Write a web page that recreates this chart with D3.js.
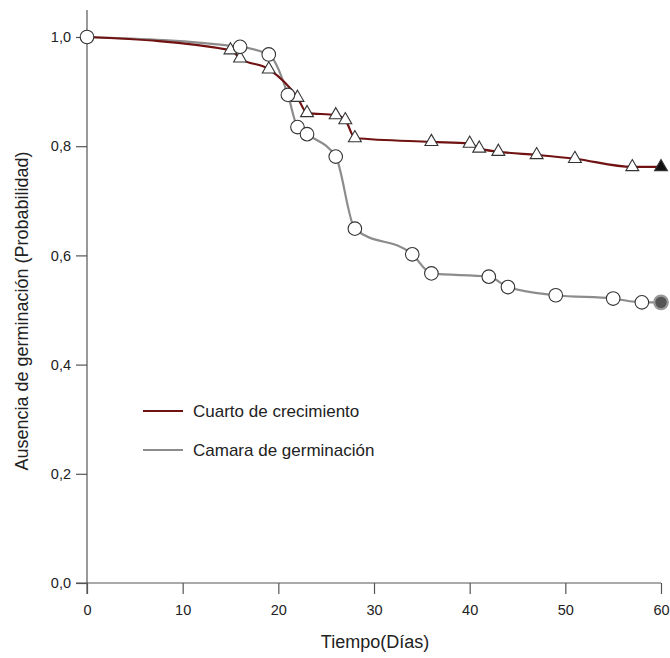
<!DOCTYPE html>
<html>
<head>
<meta charset="utf-8">
<script src="https://cdn.jsdelivr.net/npm/d3@7"></script>
<style>
  body { margin: 0; background: #fff; }
  text { font-family: "Liberation Sans", Arial, sans-serif; fill: #222; }
</style>
</head>
<body>
<svg id="chart" width="670" height="658"></svg>
<script>
// Data
const cuartoDays = [0, 15, 16, 19, 22, 23, 26, 27, 28, 36, 40, 41, 43, 47, 51, 57, 60];
const cuartoVals = [1.0, 0.976, 0.961, 0.941, 0.889, 0.861, 0.857, 0.848, 0.815, 0.808, 0.805, 0.796, 0.790, 0.784, 0.777, 0.762, 0.762];
const camaraDays = [0, 16, 19, 21, 22, 23, 26, 28, 34, 36, 42, 44, 49, 55, 58, 60];
const camaraVals = [1.0, 0.982, 0.968, 0.894, 0.835, 0.822, 0.781, 0.649, 0.602, 0.567, 0.561, 0.542, 0.527, 0.521, 0.514, 0.514];
const xTicks = [0, 10, 20, 30, 40, 50, 60];
const yTicks = [0, 0.2, 0.4, 0.6, 0.8, 1.0];
const seriesNames = ["Cuarto de crecimiento", "Camara de germinación"];

const svg = d3.select("#chart");
const x = d3.scaleLinear().domain([0, 60]).range([87, 661]);
const y = d3.scaleLinear().domain([0, 1]).range([583, 37]);
const fmt = d => d3.format(".1f")(d).replace(".", ",");

// Axes
const axisColor = "#555";
svg.append("line").attr("x1", x(0)).attr("x2", x(0)).attr("y1", 10).attr("y2", 594)
  .attr("stroke", axisColor).attr("stroke-width", 1.2);
svg.append("line").attr("x1", 76).attr("x2", x(60)).attr("y1", y(0)).attr("y2", y(0))
  .attr("stroke", axisColor).attr("stroke-width", 1.2);

const gx = svg.append("g").attr("transform", `translate(0,${y(0)})`)
  .call(d3.axisBottom(x).tickValues(xTicks).tickSize(11).tickPadding(11).tickFormat(d3.format("d")));
const gy = svg.append("g").attr("transform", `translate(${x(0)},0)`)
  .call(d3.axisLeft(y).tickValues(yTicks).tickSize(11).tickPadding(5).tickFormat(fmt));
[gx, gy].forEach(g => {
  g.select(".domain").remove();
  g.selectAll(".tick line").attr("stroke", axisColor).attr("stroke-width", 1.2);
  g.selectAll(".tick text").attr("font-size", 14.5).attr("fill", "#222")
    .attr("font-family", "'Liberation Sans', Arial, sans-serif");
});

// Titles
svg.append("text").attr("x", 375).attr("y", 648).attr("text-anchor", "middle")
  .attr("font-size", 18).text("Tiempo(Días)");
svg.append("text").attr("transform", "translate(28,311) rotate(-90)").attr("text-anchor", "middle")
  .attr("font-size", 18).text("Ausencia de germinación (Probabilidad)");

// Lines
const cuarto = cuartoDays.map((d, i) => ({ d, v: cuartoVals[i] }));
const camara = camaraDays.map((d, i) => ({ d, v: camaraVals[i] }));
const line = d3.line().x(p => x(p.d)).y(p => y(p.v)).curve(d3.curveMonotoneX);

svg.append("path").datum(camara).attr("d", line).attr("fill", "none")
  .attr("stroke", "#8c8c8c").attr("stroke-width", 2.2);
svg.append("path").datum(cuarto).attr("d", line).attr("fill", "none")
  .attr("stroke", "#701212").attr("stroke-width", 2.2);

// Markers
const tri = d3.symbol().type(d3.symbolTriangle).size(72);
svg.append("g").selectAll("path").data(cuarto.slice(1)).join("path")
  .attr("d", tri).attr("transform", p => `translate(${x(p.d)},${y(p.v)})`)
  .attr("fill", (p, i, arr) => i === arr.length - 1 ? "#111" : "#fff")
  .attr("stroke", "#333").attr("stroke-width", 1.1);

svg.append("g").selectAll("circle").data(camara).join("circle")
  .attr("cx", p => x(p.d)).attr("cy", p => y(p.v)).attr("r", 6.8)
  .attr("fill", (p, i, arr) => i === arr.length - 1 ? "#555" : "#fff")
  .attr("stroke", (p, i, arr) => i === arr.length - 1 ? "#999" : "#333")
  .attr("stroke-width", (p, i, arr) => i === arr.length - 1 ? 2.2 : 1.1);

// Legend
const legendColors = ["#701212", "#8c8c8c"];
const leg = svg.append("g");
seriesNames.forEach((name, i) => {
  const ly = 411 + i * 39;
  leg.append("line").attr("x1", 143).attr("x2", 183).attr("y1", ly).attr("y2", ly)
    .attr("stroke", legendColors[i]).attr("stroke-width", 2);
  leg.append("text").attr("x", 193).attr("y", ly + 6).attr("font-size", 17).text(name);
});
</script>
</body>
</html>
